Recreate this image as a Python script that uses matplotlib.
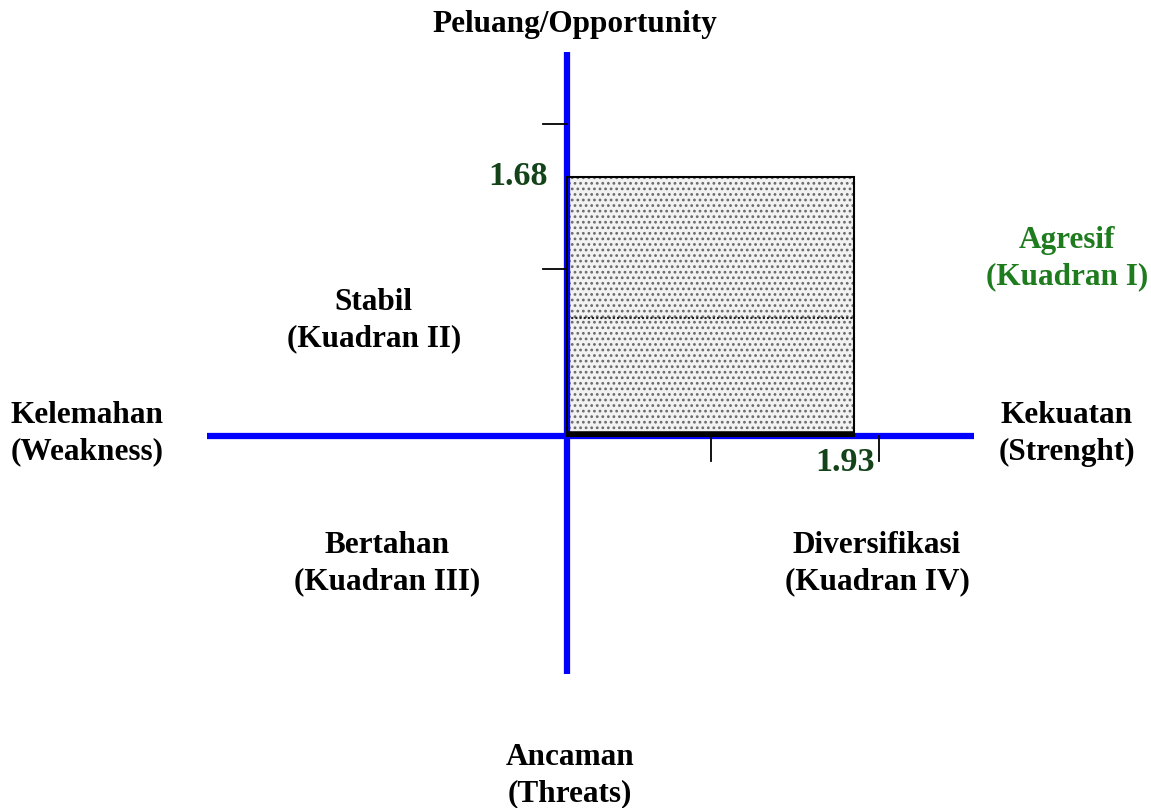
import matplotlib
matplotlib.use("Agg")
import matplotlib.pyplot as plt
from matplotlib.patches import Rectangle

# ---- data ----------------------------------------------------------------
strength_score = 1.93      # x (Kekuatan - Kelemahan)
opportunity_score = 1.68   # y (Peluang - Ancaman)
x_axis_range = [-2.42, 2.74]
y_axis_range = [-1.54, 2.49]
x_ticks = [0.97, 2.10]
y_ticks = [1.08, 2.02]

quadrant_labels = ["Agresif\n(Kuadran I)", "Stabil\n(Kuadran II)",
                   "Bertahan\n(Kuadran III)", "Diversifikasi\n(Kuadran IV)"]
quadrant_pos = [(3.36, 1.15), (-1.30, 0.746), (-1.21, -0.827), (2.085, -0.827)]
axis_labels = ["Peluang/Opportunity", "Ancaman\n(Threats)",
               "Kelemahan\n(Weakness)", "Kekuatan\n(Strenght)"]
axis_label_pos = [(0.05, 2.665), (0.02, -2.205), (-3.23, 0.013), (3.36, 0.013)]

BLUE = "#0000FF"
DARKGREEN = "#14431A"
GREEN = "#1E7B1E"

plt.rcParams["font.family"] = ["Liberation Serif", "DejaVu Serif"]
plt.rcParams["hatch.linewidth"] = 1.2

fig = plt.figure(figsize=(11.51, 8.08), dpi=100)
ax = fig.add_axes([0, 0, 1, 1])
ax.set_xlim(-3.813, 3.927)
ax.set_ylim(-2.412, 2.827)
ax.axis("off")

# shaded result box (dotted texture)
ax.add_patch(Rectangle((0, 0), strength_score, opportunity_score,
                       facecolor="#F2F2F2", edgecolor="#6A6A6A", hatch="...",
                       linewidth=0, zorder=1))
ax.add_patch(Rectangle((0, 0), strength_score, opportunity_score,
                       facecolor="none", edgecolor="black", linewidth=1.5, zorder=3))
ax.plot([0, strength_score], [opportunity_score * 0.455] * 2, color="#222222",
        linewidth=1.5, linestyle=(0, (1, 1)), zorder=2)

# axes
ax.plot(x_axis_range, [0, 0], color=BLUE, linewidth=4.5, solid_capstyle="butt", zorder=2)
ax.plot([0, 0], y_axis_range, color=BLUE, linewidth=4.5, solid_capstyle="butt", zorder=2)
ax.plot([0, strength_score], [0.012, 0.012], color="black", linewidth=4, solid_capstyle="butt", zorder=4)

# tick marks
for t in x_ticks:
    ax.plot([t, t], [0, -0.16], color="black", linewidth=1.3, zorder=2)
for t in y_ticks:
    ax.plot([-0.16, 0], [t, t], color="black", linewidth=1.3, zorder=2)

# values
ax.text(-0.128, opportunity_score, f"{opportunity_score:.2f}", color=DARKGREEN,
        fontsize=24.5, fontweight="bold", ha="right", va="center")
ax.text(strength_score + 0.14, -0.175, f"{strength_score:.2f}", color=DARKGREEN,
        fontsize=24.5, fontweight="bold", ha="right", va="center")

# labels
for lab, (x, y) in zip(quadrant_labels, quadrant_pos):
    ax.text(x, y, lab, color=GREEN if lab.startswith("Agresif") else "black",
            fontsize=22.5, fontweight="bold", ha="center", va="center", linespacing=1.33)
for lab, (x, y) in zip(axis_labels, axis_label_pos):
    ax.text(x, y, lab, fontsize=22.5, fontweight="bold", ha="center", va="center",
            linespacing=1.33)

fig.savefig("out.png", dpi=100)
